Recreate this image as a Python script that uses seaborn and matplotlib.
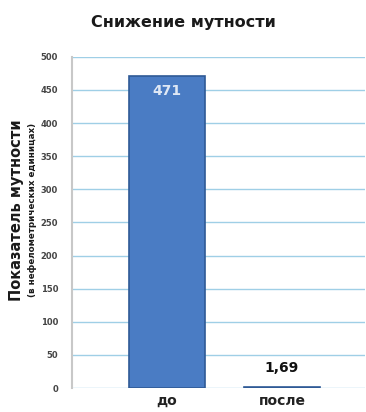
import pandas as pd
import numpy as np
import seaborn as sns
import matplotlib.pyplot as plt

categories = ['до', 'после']
values = [471, 1.69]
value_labels = ['471', '1,69']
y_ticks = [0, 50, 100, 150, 200, 250, 300, 350, 400, 450, 500]

df = pd.DataFrame({'stage': categories, 'turbidity': values})

sns.set_style('white')
plt.rcParams['font.family'] = ['DejaVu Sans']

fig = plt.figure(figsize=(3.66, 4.12), dpi=100)
ax = fig.add_axes([0.197, 0.058, 0.80, 0.804])

sns.barplot(data=df, x='stage', y='turbidity', color='#4a7cc4', width=0.66,
            saturation=1, edgecolor='#2f5a96', linewidth=1.2, ax=ax, zorder=3)

ax.set_ylim(0, 500)
ax.set_xlim(-0.82, 1.72)
ax.set_yticks(y_ticks)
ax.set_yticklabels([str(t) for t in y_ticks], fontsize=6, fontweight='bold', color='#444444')
ax.tick_params(axis='y', length=0, pad=10)
ax.tick_params(axis='x', length=0, pad=4)
for lbl in ax.get_xticklabels():
    lbl.set_fontsize(10)
    lbl.set_fontweight('bold')
    lbl.set_color('#222222')

ax.yaxis.grid(True, color='#9fcfe6', linewidth=1.0, zorder=0)
for s in ['top', 'right', 'bottom']:
    ax.spines[s].set_visible(False)
ax.spines['left'].set_color('#c8c8c8')
ax.spines['left'].set_linewidth(1.5)
ax.set_xlabel('')
ax.set_ylabel('')

# value labels
ax.text(0, values[0] - 22, value_labels[0], ha='center', va='center',
        fontsize=10, fontweight='bold', color='#dfe8f5', zorder=5)
ax.text(1, values[1] + 28, value_labels[1], ha='center', va='center',
        fontsize=10, fontweight='bold', color='#111111', zorder=5)

fig.text(0.5, 0.945, 'Снижение мутности', ha='center', va='center',
         fontsize=11.5, fontweight='bold', color='#1a1a1a')
fig.text(0.046, 0.49, 'Показатель мутности', rotation=90, ha='center', va='center',
         fontsize=10.5, fontweight='bold', color='#1a1a1a')
fig.text(0.088, 0.49, '(в нефелометрических единицах)', rotation=90, ha='center',
         va='center', fontsize=6.3, fontweight='bold', color='#1a1a1a')

fig.savefig('out.png', dpi=100)
